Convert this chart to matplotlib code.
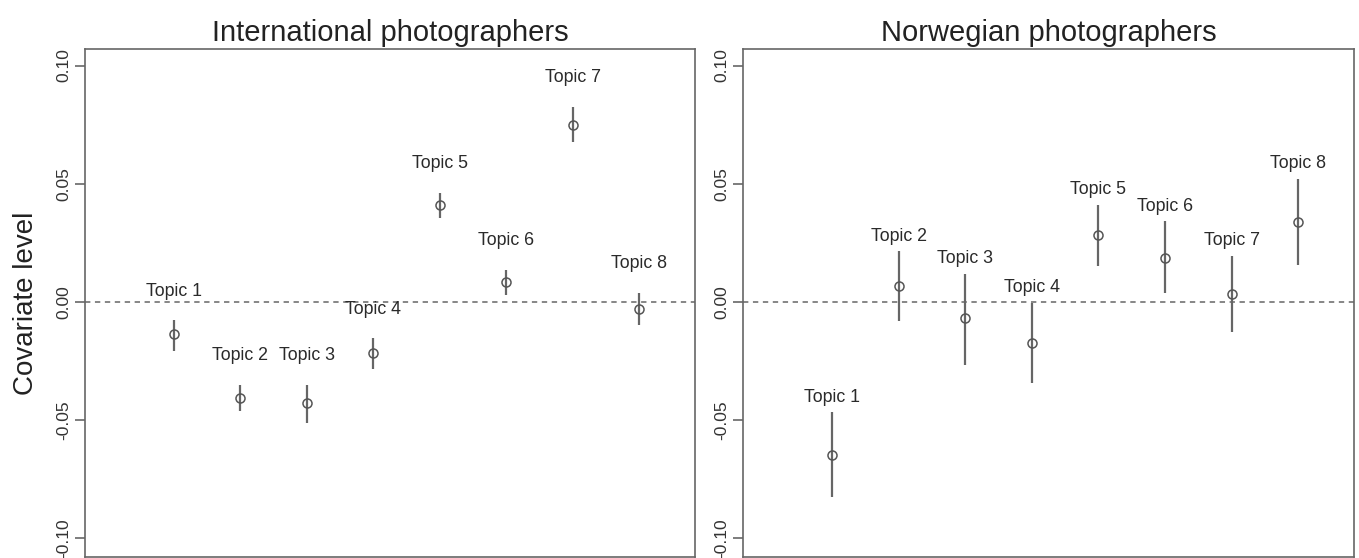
import numpy as np
import matplotlib
matplotlib.use('Agg')
import matplotlib.pyplot as plt

plt.rcParams['font.family'] = ['Liberation Sans', 'DejaVu Sans']

topics = ['Topic 1', 'Topic 2', 'Topic 3', 'Topic 4', 'Topic 5', 'Topic 6', 'Topic 7', 'Topic 8']

# International photographers: point estimate and confidence bounds
intl_est = [-0.0137, -0.0405, -0.0429, -0.0217, 0.0410, 0.0082, 0.0749, -0.0030]
intl_lo = [-0.0207, -0.0464, -0.0511, -0.0285, 0.0354, 0.0027, 0.0678, -0.0097]
intl_hi = [-0.0079, -0.0351, -0.0351, -0.0154, 0.0460, 0.0135, 0.0824, 0.0038]

# Norwegian photographers
nor_est = [-0.0647, 0.0065, -0.0069, -0.0175, 0.0283, 0.0187, 0.0034, 0.0337]
nor_lo = [-0.0824, -0.0083, -0.0269, -0.0344, 0.0152, 0.0037, -0.0127, 0.0157]
nor_hi = [-0.0468, 0.0213, 0.0118, -0.0003, 0.0410, 0.0340, 0.0195, 0.0519]

yticks = [-0.10, -0.05, 0.00, 0.05, 0.10]
yticklabels = ['-0.10', '-0.05', '0.00', '0.05', '0.10']

fig = plt.figure(figsize=(13.59, 5.58), dpi=100)
ax1 = fig.add_axes([0.0625, 0.0018, 0.4489, 0.9104])
ax2 = fig.add_axes([0.5467, 0.0018, 0.4496, 0.9104])

panels = [
    (ax1, 'International photographers', intl_est, intl_lo, intl_hi, 21),
    (ax2, 'Norwegian photographers', nor_est, nor_lo, nor_hi, 11),
]

grey = '#5a5a5a'
for ax, title, est, lo, hi, gap in panels:
    x = np.arange(1, len(topics) + 1)
    est = np.array(est)
    lo = np.array(lo)
    hi = np.array(hi)
    ax.axhline(0, color='#666666', linestyle=(0, (3.5, 3)), linewidth=1.1, zorder=1)
    ax.vlines(x, lo, hi, color='#666666', linewidth=1.6, zorder=2)
    ax.plot(x, est, 'o', markersize=6.5, markerfacecolor='none',
            markeredgecolor='#555555', markeredgewidth=1.1, zorder=3)
    for xi, h, name in zip(x, hi, topics):
        ax.annotate(name, (xi, h), xytext=(0, gap), textcoords='offset points',
                    ha='center', va='center', fontsize=12.8, color='#2a2a2a')

    ax.set_xlim(-0.34, 8.84)
    ax.set_ylim(-0.108, 0.107)
    ax.set_xticks([])
    ax.set_yticks(yticks)
    ax.set_yticklabels(yticklabels, rotation=90, va='center')
    ax.tick_params(axis='y', length=7, width=1.1, color=grey, pad=3,
                   labelsize=12.5, labelcolor='#333333')
    for s in ax.spines.values():
        s.set_color('#666666')
        s.set_linewidth(1.2)
    ax.set_title(title, fontsize=21, color='#222222', pad=6)

ax1.set_ylabel('Covariate level', fontsize=20, color='#222222', labelpad=12)

fig.savefig('out.png', dpi=100)
